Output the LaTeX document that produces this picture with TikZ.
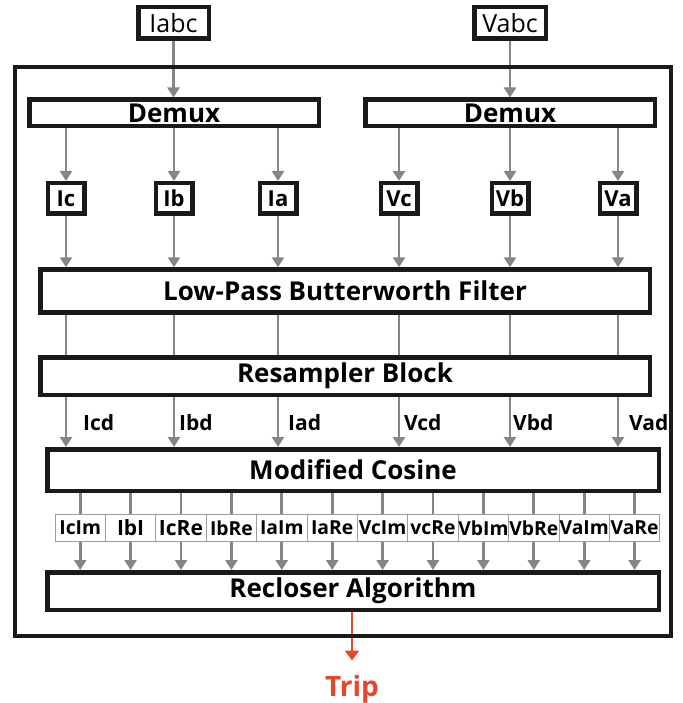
\documentclass[tikz,border=0pt]{standalone}
\usepackage{fontspec}
\setmainfont{Open Sans}
\usetikzlibrary{arrows.meta}
\definecolor{edgegray}{HTML}{858585}
\definecolor{boxline}{HTML}{1A1A1A}
\definecolor{tripred}{HTML}{E8462A}

\begin{document}
\begin{tikzpicture}[
  x=1pt,y=-1pt,
  block/.style={draw=boxline,line width=4.5pt,fill=white,inner sep=0pt,font=\fontsize{26}{28}\selectfont\bfseries},
  inbox/.style={draw=boxline,line width=4.5pt,inner sep=0pt,minimum height=31.5pt,font=\fontsize{25}{27}\selectfont},
  chbox/.style={draw=boxline,line width=4.5pt,inner sep=0pt,minimum width=36.5pt,minimum height=30.5pt,font=\fontsize{22}{24}\selectfont\bfseries},
  partbox/.style={draw=edgegray!80,line width=0.9pt,inner sep=0pt,minimum width=50.4pt,minimum height=27pt,font=\fontsize{19.3}{21}\selectfont\bfseries},
  sig/.style={anchor=west,inner sep=0pt,font=\fontsize{21}{23}\selectfont\bfseries},
  arr/.style={draw=edgegray,line width=2.8pt,-{Triangle[length=10pt,width=12pt]}},
  link/.style={draw=edgegray,line width=2.8pt}
]
  \useasboundingbox (0,0) rectangle (682,703);

  \node[inbox,minimum width=70.5pt] (iabc) at (173.5,23) {Iabc};
  \node[inbox,minimum width=71.5pt] (vabc) at (510,23) {Vabc};

  \node[block,minimum width=289.5pt,minimum height=26.5pt] (dmxI) at (174,113) {Demux};
  \node[block,minimum width=289.5pt,minimum height=26.5pt] (dmxV) at (510,113) {Demux};

  \node[chbox] (ic) at (66,198.5) {Ic};
  \node[chbox] (ib) at (174,198.5) {Ib};
  \node[chbox] (ia) at (278,198.5) {Ia};
  \node[chbox] (vc) at (399,198.5) {Vc};
  \node[chbox] (vb) at (510,198.5) {Vb};
  \node[chbox] (va) at (618,198.5) {Va};

  \node[block,minimum width=609.5pt,minimum height=43pt] (lpf) at (345,291) {Low-Pass Butterworth Filter};
  \node[block,minimum width=609.5pt,minimum height=37.5pt] (res) at (345,376) {Resampler Block};
  \node[block,minimum width=611.5pt,minimum height=41.5pt] (mc) at (353,470) {Modified Cosine};

  \node[sig] (icd) at (83,423) {Icd};
  \node[sig] (ibd) at (179,423) {Ibd};
  \node[sig] (iad) at (288,423) {Iad};
  \node[sig] (vcd) at (404,423) {Vcd};
  \node[sig] (vbd) at (513,423) {Vbd};
  \node[sig] (vad) at (629,423) {Vad};

  \node[partbox] (p1) at (80.2,528) {IcIm};
  \node[partbox,font=\fontsize{21}{23}\selectfont\bfseries] (p2) at (130.6,528) {IbI};
  \node[partbox,font=\fontsize{21}{23}\selectfont\bfseries] (p3) at (181.0,528) {IcRe};
  \node[partbox] (p4) at (231.4,528) {IbRe};
  \node[partbox] (p5) at (281.8,528) {IaIm};
  \node[partbox] (p6) at (332.2,528) {IaRe};
  \node[partbox] (p7) at (382.6,528) {VcIm};
  \node[partbox] (p8) at (433.0,528) {vcRe};
  \node[partbox] (p9) at (483.4,528) {VbIm};
  \node[partbox] (p10) at (533.8,528) {VbRe};
  \node[partbox] (p11) at (584.2,528) {VaIm};
  \node[partbox] (p12) at (634.6,528) {VaRe};

  \node[block,minimum width=611.5pt,minimum height=37.5pt] (rec) at (353,591) {Recloser Algorithm};

  \node[anchor=base,inner xsep=0pt,inner ysep=14pt,text=tripred,font=\fontsize{28}{30}\selectfont\bfseries] (trip) at (352,696) {Trip};

  \draw[arr] (iabc) -- (dmxI.north -| iabc);
  \draw[arr] (vabc) -- (dmxV);

  \draw[arr] (dmxI.south -| ic) -- (ic);
  \draw[arr] (dmxI.south -| ib) -- (ib);
  \draw[arr] (dmxI.south -| ia) -- (ia);
  \draw[arr] (dmxV.south -| vc) -- (vc);
  \draw[arr] (dmxV.south -| vb) -- (vb);
  \draw[arr] (dmxV.south -| va) -- (va);

  \draw[arr] (ic) -- (lpf.north -| ic);
  \draw[arr] (ib) -- (lpf.north -| ib);
  \draw[arr] (ia) -- (lpf.north -| ia);
  \draw[arr] (vc) -- (lpf.north -| vc);
  \draw[arr] (vb) -- (lpf.north -| vb);
  \draw[arr] (va) -- (lpf.north -| va);

  \draw[link] (lpf.south -| ic) -- (res.north -| ic);
  \draw[link] (lpf.south -| ib) -- (res.north -| ib);
  \draw[link] (lpf.south -| ia) -- (res.north -| ia);
  \draw[link] (lpf.south -| vc) -- (res.north -| vc);
  \draw[link] (lpf.south -| vb) -- (res.north -| vb);
  \draw[link] (lpf.south -| va) -- (res.north -| va);

  \draw[arr] (res.south -| ic) -- (mc.north -| ic);
  \draw[arr] (res.south -| ib) -- (mc.north -| ib);
  \draw[arr] (res.south -| ia) -- (mc.north -| ia);
  \draw[arr] (res.south -| vc) -- (mc.north -| vc);
  \draw[arr] (res.south -| vb) -- (mc.north -| vb);
  \draw[arr] (res.south -| va) -- (mc.north -| va);

  \draw[link] (mc.south -| p1) -- (p1);
  \draw[link] (mc.south -| p2) -- (p2);
  \draw[link] (mc.south -| p3) -- (p3);
  \draw[link] (mc.south -| p4) -- (p4);
  \draw[link] (mc.south -| p5) -- (p5);
  \draw[link] (mc.south -| p6) -- (p6);
  \draw[link] (mc.south -| p7) -- (p7);
  \draw[link] (mc.south -| p8) -- (p8);
  \draw[link] (mc.south -| p9) -- (p9);
  \draw[link] (mc.south -| p10) -- (p10);
  \draw[link] (mc.south -| p11) -- (p11);
  \draw[link] (mc.south -| p12) -- (p12);

  \draw[arr] (p1) -- (rec.north -| p1);
  \draw[arr] (p2) -- (rec.north -| p2);
  \draw[arr] (p3) -- (rec.north -| p3);
  \draw[arr] (p4) -- (rec.north -| p4);
  \draw[arr] (p5) -- (rec.north -| p5);
  \draw[arr] (p6) -- (rec.north -| p6);
  \draw[arr] (p7) -- (rec.north -| p7);
  \draw[arr] (p8) -- (rec.north -| p8);
  \draw[arr] (p9) -- (rec.north -| p9);
  \draw[arr] (p10) -- (rec.north -| p10);
  \draw[arr] (p11) -- (rec.north -| p11);
  \draw[arr] (p12) -- (rec.north -| p12);

  \draw[arr,draw=tripred,fill=tripred,-{Triangle[length=10pt,width=14pt]}] (rec.south -| trip) -- (trip);

  \draw[boxline,line width=4pt] (15,67) rectangle (671,636);
\end{tikzpicture}
\end{document}
